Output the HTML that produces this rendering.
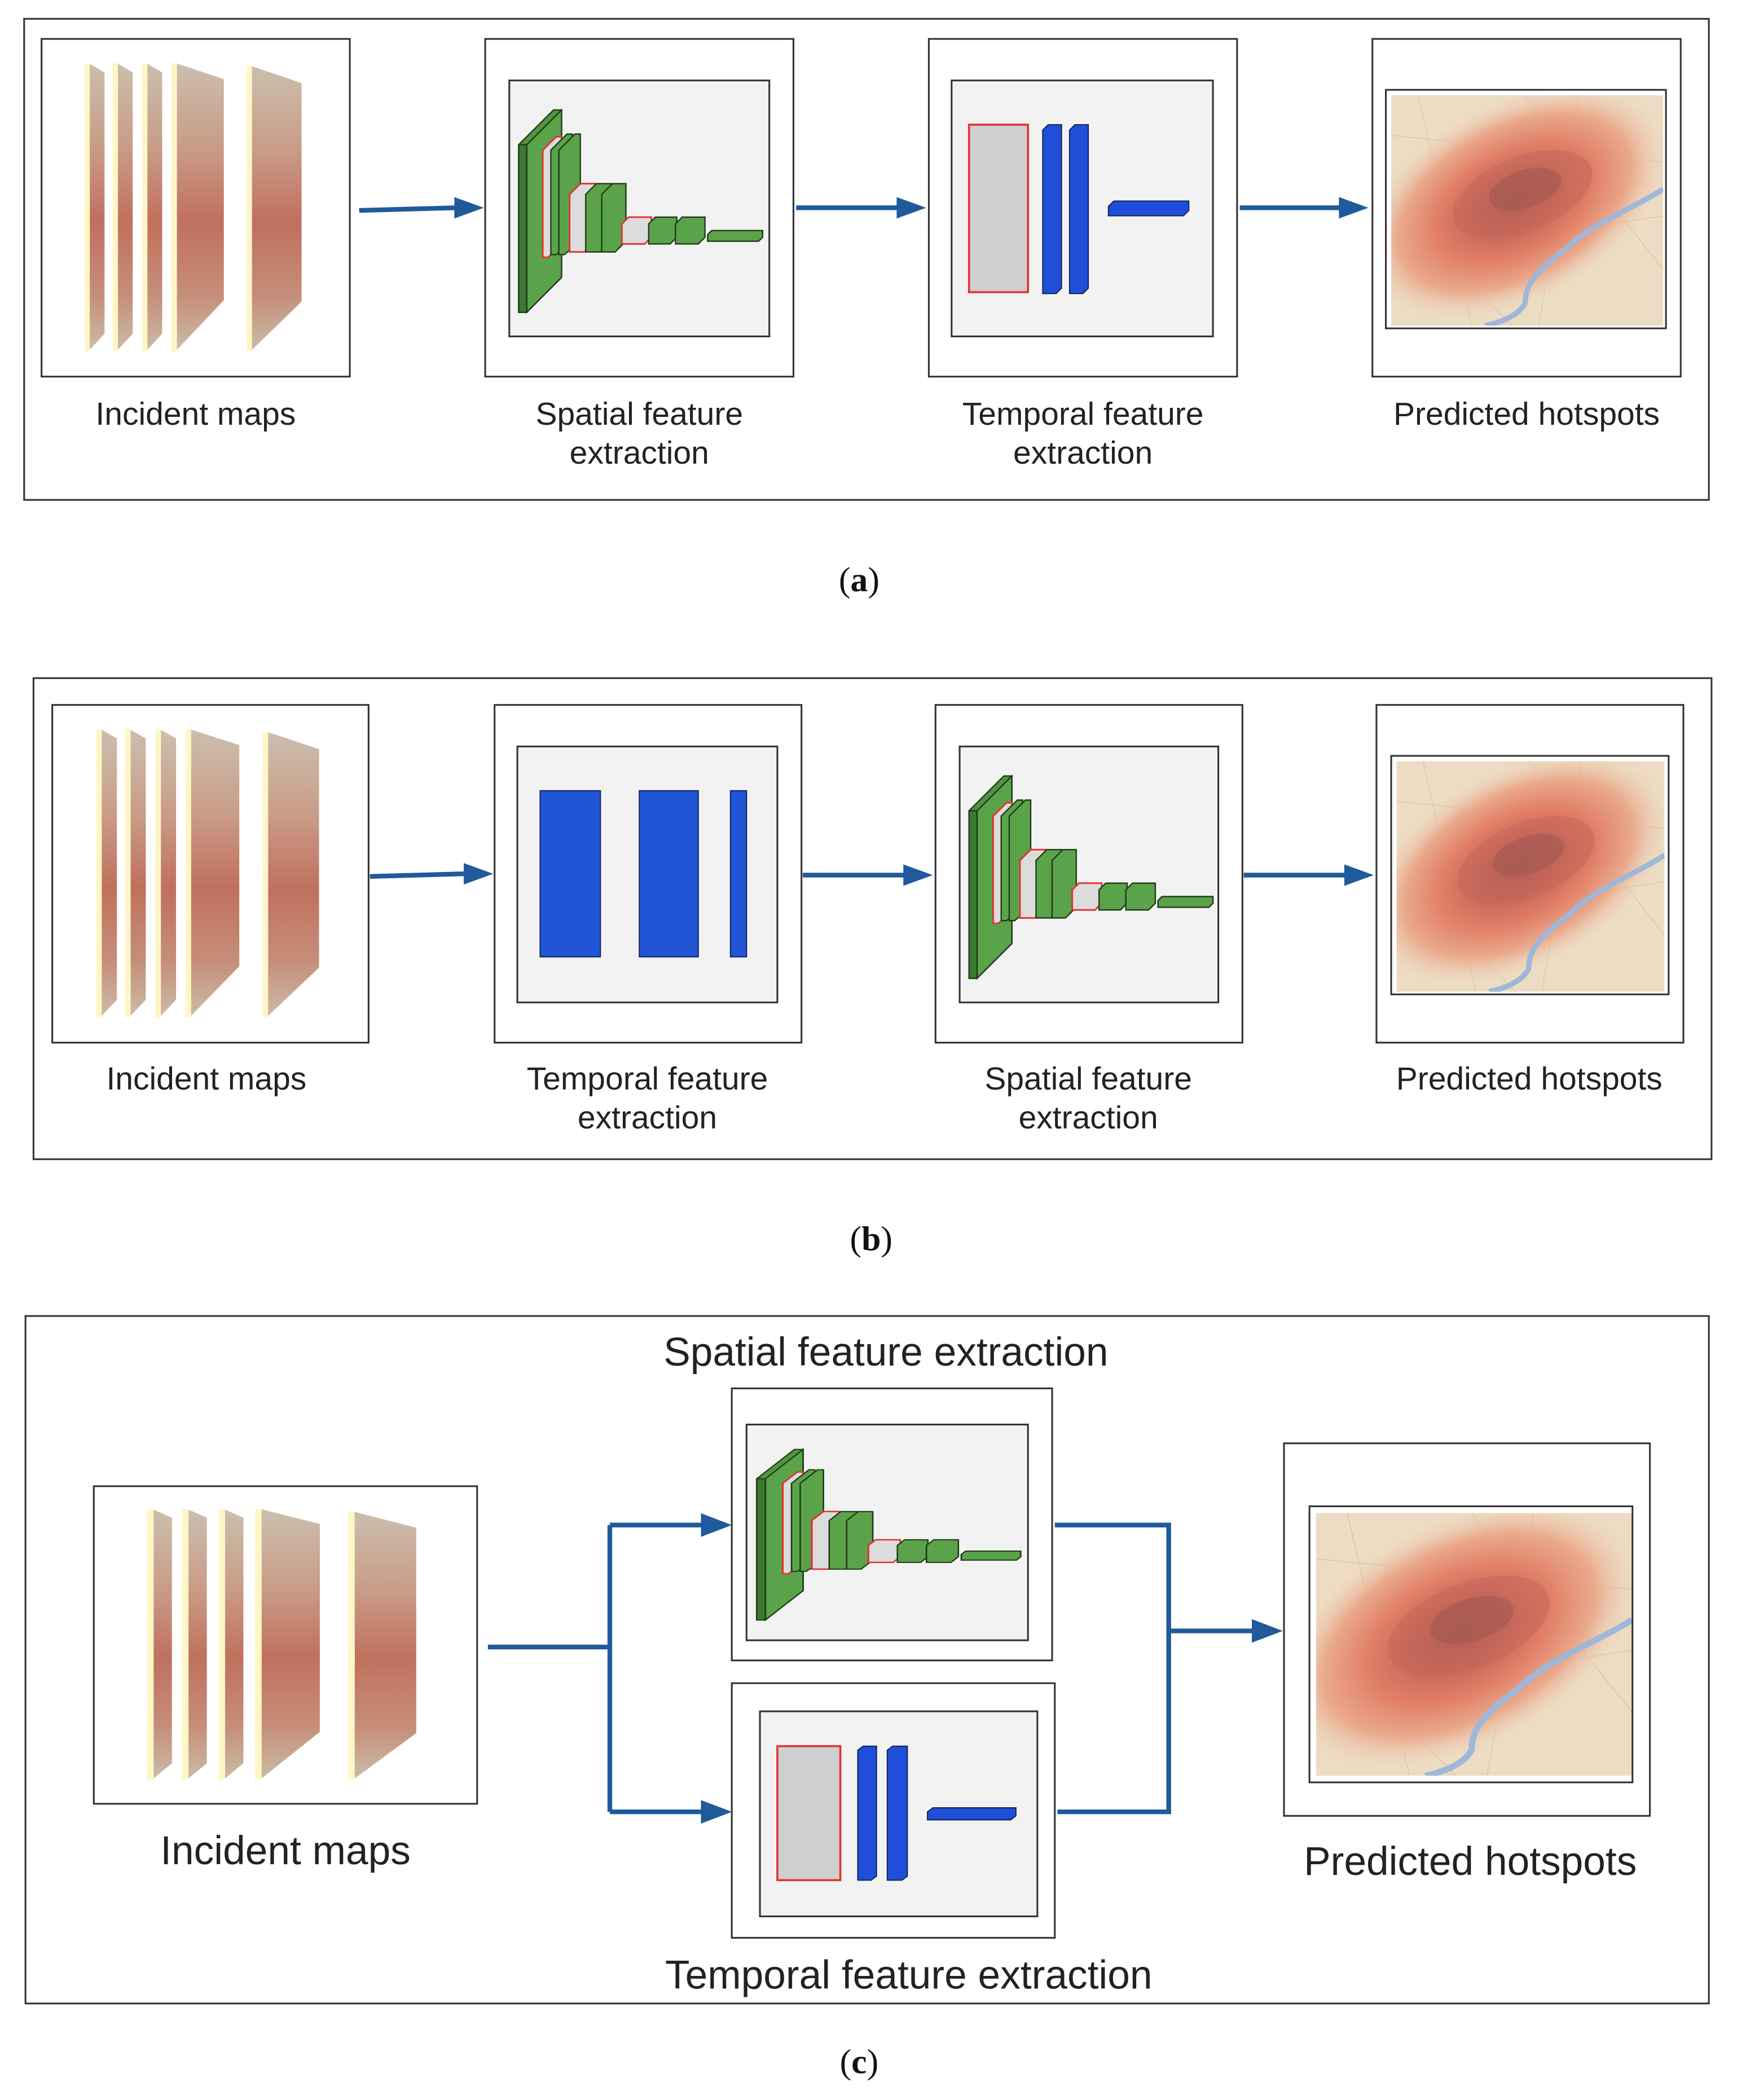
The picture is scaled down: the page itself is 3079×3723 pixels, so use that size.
<!DOCTYPE html>
<html><head><meta charset="utf-8"><style>
html,body{margin:0;padding:0;background:#fff}
svg{display:block}
text{font-family:"Liberation Sans",sans-serif;fill:#222}
.cap{font-family:"Liberation Serif",serif;fill:#111}
</style></head><body>
<svg width="3079" height="3723" viewBox="0 0 1296 1567" xmlns="http://www.w3.org/2000/svg">
<defs>
<linearGradient id="sl" x1="0" y1="0" x2="0" y2="1">
<stop offset="0" stop-color="#cbbfae"/><stop offset="0.3" stop-color="#c99b86"/><stop offset="0.55" stop-color="#c0705e"/><stop offset="0.8" stop-color="#c58d78"/><stop offset="1" stop-color="#cbbca8"/></linearGradient>
<radialGradient id="hot" cx="0.5" cy="0.5" r="0.5">
<stop offset="0" stop-color="#a85a50"/><stop offset="0.25" stop-color="#c8655a"/><stop offset="0.5" stop-color="#e07e66"/><stop offset="0.75" stop-color="#eaa98c"/><stop offset="1" stop-color="#ecd7bf" stop-opacity="0"/></radialGradient>
<clipPath id="hc"><rect x="0" y="0" width="203" height="172"/></clipPath>
<g id="maps">
<polygon points="35,18 47,25 47,220 35,233" fill="url(#sl)"/><rect x="32" y="18" width="4" height="215" fill="#fff6c6"/>
<polygon points="56,18 68,25 68,220 56,233" fill="url(#sl)"/><rect x="53" y="18" width="4" height="215" fill="#fff6c6"/>
<polygon points="78,18 90,25 90,220 78,233" fill="url(#sl)"/><rect x="75" y="18" width="4" height="215" fill="#fff6c6"/>
<polygon points="100,18 136,30 136,195 100,233" fill="url(#sl)"/><rect x="97" y="18" width="4" height="215" fill="#fff6c6"/>
<polygon points="156,20 194,33 194,196 156,233" fill="url(#sl)"/><rect x="153" y="20" width="4" height="213" fill="#fff6c6"/>
</g>
<g id="cnn">
<polygon points="387,108 413,82 419,82 419,207 393,233 387,233" fill="#4f9640" stroke="#1d3a17" stroke-width="1"/>
<polygon points="393,108 419,82 419,207 393,233" fill="#5aa34a" stroke="#1d3a17" stroke-width="1"/>
<rect x="387" y="108" width="6" height="125" fill="#3c7a31" stroke="#1d3a17" stroke-width="1"/>
<polygon points="405,112 415,102 419,102 419,182 409,192 405,192" fill="#dcdcdc" stroke="#e53030" stroke-width="1.2"/>
<polygon points="411,112 423,100 427,100 427,180 415,190 411,190" fill="#5aa34a" stroke="#1d3a17" stroke-width="1"/>
<polygon points="417,112 429,100 433,100 433,180 421,190 417,190" fill="#5aa34a" stroke="#1d3a17" stroke-width="1"/>
<polygon points="425,145 433,137 444,137 444,180 436,188 425,188" fill="#dcdcdc" stroke="#e53030" stroke-width="1.2"/>
<polygon points="437,145 445,137 456,137 456,180 448,188 437,188" fill="#5aa34a" stroke="#1d3a17" stroke-width="1"/>
<polygon points="449,145 457,137 467,137 467,180 459,188 449,188" fill="#5aa34a" stroke="#1d3a17" stroke-width="1"/>
<polygon points="464,167 469,162 486,162 486,177 481,182 464,182" fill="#dcdcdc" stroke="#e53030" stroke-width="1.2"/>
<polygon points="484,167 489,162 505,162 505,177 500,182 484,182" fill="#5aa34a" stroke="#1d3a17" stroke-width="1"/>
<polygon points="504,167 509,162 526,162 526,177 521,182 504,182" fill="#5aa34a" stroke="#1d3a17" stroke-width="1"/>
<polygon points="528,175 531,172 569,172 569,177 566,180 528,180" fill="#5aa34a" stroke="#1d3a17" stroke-width="1"/>
</g>
<g id="hs">
<g clip-path="url(#hc)">
<rect x="0" y="0" width="203" height="172" fill="#ecdcc3"/>
<g stroke="#d8c7a8" stroke-width="0.6" fill="none"><path d="M0,30 L203,50 M20,0 L60,172 M0,120 L203,90 M140,0 L110,172 M0,80 L90,172 M100,0 L203,130"/></g>
<ellipse cx="92" cy="80" rx="125" ry="75" transform="rotate(-28 92 80)" fill="url(#hot)"/>
<ellipse cx="98" cy="74" rx="55" ry="28" transform="rotate(-22 98 74)" fill="#c2655a" opacity="0.5"/>
<ellipse cx="100" cy="70" rx="28" ry="14" transform="rotate(-18 100 70)" fill="#9e5750" opacity="0.55"/>
<path d="M203,70 C180,85 150,95 130,115 C110,130 100,140 100,155 C95,165 80,170 70,172" stroke="#9fb7d8" stroke-width="4" fill="none"/>
</g></g>
<polygon id="ah" points="0,-8 22,0 0,8" fill="#1f5a9a"/>
</defs>

<g fill="none" stroke="#333" stroke-width="1.3">
<rect x="18" y="14" width="1257" height="359"/>
<rect x="31" y="29" width="230" height="252"/>
<rect x="362" y="29" width="230" height="252"/>
<rect x="693" y="29" width="230" height="252"/>
<rect x="1024" y="29" width="230" height="252"/>
<rect x="380" y="60" width="194" height="191" fill="#f2f2f2"/>
<rect x="710" y="60" width="195" height="191" fill="#f2f2f2"/>
<rect x="25" y="506" width="1252" height="359"/>
<rect x="39" y="526" width="236" height="252"/>
<rect x="369" y="526" width="229" height="252"/>
<rect x="698" y="526" width="229" height="252"/>
<rect x="1027" y="526" width="229" height="252"/>
<rect x="386" y="557" width="194" height="191" fill="#f2f2f2"/>
<rect x="716" y="557" width="193" height="191" fill="#f2f2f2"/>
<rect x="19" y="982" width="1256" height="513"/>
<rect x="70" y="1109" width="286" height="237"/>
<rect x="546" y="1036" width="239" height="203"/>
<rect x="557" y="1063" width="210" height="161" fill="#f2f2f2"/>
<rect x="546" y="1256" width="241" height="190"/>
<rect x="567" y="1277" width="207" height="153" fill="#f2f2f2"/>
<rect x="958" y="1077" width="273" height="278"/>
</g>

<use href="#maps" transform="translate(31,29)"/>
<use href="#maps" transform="translate(39,526) scale(1.026,1)"/>
<use href="#maps" transform="translate(70,1109) scale(1.24,0.94)"/>

<use href="#cnn"/>
<use href="#cnn" transform="translate(336,497)"/>
<use href="#cnn" transform="translate(557,1063) scale(1.0825,0.843) translate(-380,-60)"/>

<rect x="723" y="93" width="44" height="125" fill="#cfcfcf" stroke="#e53030" stroke-width="1.5"/>
<g stroke="#0d1f55" stroke-width="0.8">
<polygon points="778,97 782,93 792,93 792,215 788,219 778,219" fill="#1f4fd8"/>
<polygon points="798,97 802,93 812,93 812,215 808,219 798,219" fill="#1f4fd8"/>
<polygon points="827,154 831,150 887,150 887,157 883,161 827,161" fill="#1f4fd8"/>
</g>
<g stroke="#0d1f55" stroke-width="0.8" fill="#1f55d6">
<rect x="403" y="590" width="45" height="124"/>
<rect x="477" y="590" width="44" height="124"/>
<rect x="545" y="590" width="12" height="124"/>
</g>
<rect x="580" y="1303" width="47" height="100" fill="#cfcfcf" stroke="#e53030" stroke-width="1.5"/>
<g stroke="#0d1f55" stroke-width="0.8" fill="#1f4fd8">
<polygon points="640,1306 644,1303 654,1303 654,1400 650,1403 640,1403"/>
<polygon points="662,1306 666,1303 677,1303 677,1400 673,1403 662,1403"/>
<polygon points="692,1352 696,1349 758,1349 758,1355 754,1358 692,1358"/>
</g>

<use href="#hs" transform="translate(1038,71)"/>
<rect x="1034" y="67" width="209" height="178" fill="none" stroke="#333" stroke-width="1.3"/>
<use href="#hs" transform="translate(1042,568) scale(0.985,1.0)"/>
<rect x="1038" y="564" width="207" height="178" fill="none" stroke="#333" stroke-width="1.3"/>
<use href="#hs" transform="translate(982,1129) scale(1.16,1.14)"/>
<rect x="977" y="1124" width="241" height="206" fill="none" stroke="#333" stroke-width="1.3"/>

<g stroke="#1f5a9a" stroke-width="3.5" fill="none">
<line x1="268" y1="157" x2="340" y2="155"/>
<line x1="594" y1="155" x2="670" y2="155"/>
<line x1="925" y1="155" x2="1000" y2="155"/>
<line x1="276" y1="654" x2="347" y2="652"/>
<line x1="599" y1="653" x2="675" y2="653"/>
<line x1="928" y1="653" x2="1004" y2="653"/>
<path d="M364,1229 L455,1229 M455,1138 L455,1352 M455,1138 L524,1138 M455,1352 L524,1352"/>
<path d="M787,1138 L872,1138 L872,1352 L789,1352 M872,1217 L936,1217"/>
</g>
<use href="#ah" transform="translate(339,155)"/>
<use href="#ah" transform="translate(669,155)"/>
<use href="#ah" transform="translate(999,155)"/>
<use href="#ah" transform="translate(346,652)"/>
<use href="#ah" transform="translate(674,653)"/>
<use href="#ah" transform="translate(1003,653)"/>
<use href="#ah" transform="translate(523,1138) scale(1.05,1.1)"/>
<use href="#ah" transform="translate(523,1352) scale(1.05,1.1)"/>
<use href="#ah" transform="translate(934,1217) scale(1.05,1.1)"/>

<g font-size="24" text-anchor="middle">
<text x="146" y="317">Incident maps</text>
<text x="477" y="317">Spatial feature</text><text x="477" y="346">extraction</text>
<text x="808" y="317">Temporal feature</text><text x="808" y="346">extraction</text>
<text x="1139" y="317">Predicted hotspots</text>
<text x="154" y="813">Incident maps</text>
<text x="483" y="813">Temporal feature</text><text x="483" y="842">extraction</text>
<text x="812" y="813">Spatial feature</text><text x="812" y="842">extraction</text>
<text x="1141" y="813">Predicted hotspots</text>
</g>
<g font-size="30" text-anchor="middle">
<text x="661" y="1019">Spatial feature extraction</text>
<text x="213" y="1391">Incident maps</text>
<text x="1097" y="1399">Predicted hotspots</text>
<text x="678" y="1484">Temporal feature extraction</text>
</g>
<g font-size="26" text-anchor="middle">
<text class="cap" x="641" y="441">(<tspan font-weight="bold">a</tspan>)</text>
<text class="cap" x="650" y="933">(<tspan font-weight="bold">b</tspan>)</text>
<text class="cap" x="641" y="1547">(<tspan font-weight="bold">c</tspan>)</text>
</g>
</svg>
</body></html>
